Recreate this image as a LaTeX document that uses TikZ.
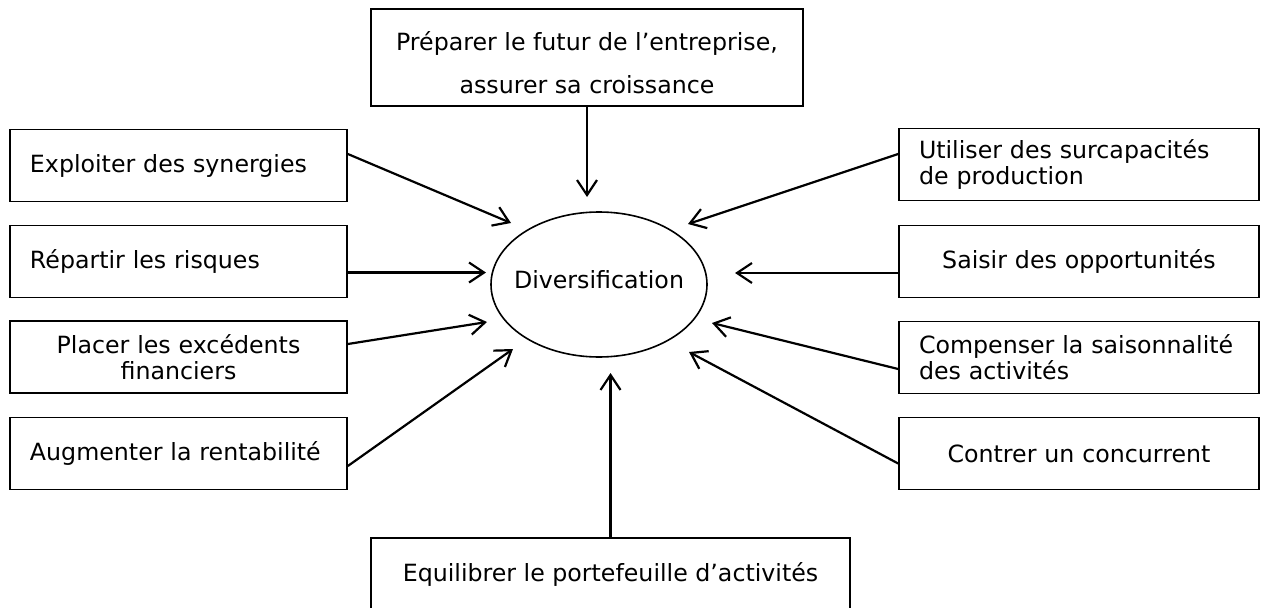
\documentclass[tikz,border=0pt]{standalone}
\usepackage{fontspec}
\setmainfont{DejaVu Sans}
\usetikzlibrary{shapes.geometric,arrows.meta}
\begin{document}
\begin{tikzpicture}[x=1pt,y=-1pt,
  every node/.style={font=\fontsize{23.7}{26}\selectfont},
  box/.style={draw, line width=1.7pt, rectangle, inner xsep=20pt, inner ysep=0pt, minimum height=72pt},
  lbox/.style={box, text width=297pt, align=left},
  lboxc/.style={box, text width=297pt, align=center},
  rbox/.style={box, text width=320pt, align=left},
  rboxc/.style={box, text width=320pt, align=center},
  arr/.style={line width=2.2pt, -{Straight Barb[length=15pt,width=20pt]}}
]
\useasboundingbox (0,0) rectangle (1262,608);
\clip (0,0) rectangle (1262,608);

\node[box, align=center, minimum width=432pt, minimum height=97pt] (pr) at (587,57.5)
  {\rule{0pt}{29pt}Préparer le futur de l’entreprise,\\[17pt]assurer sa croissance};

\node[lbox] (ex) at (178.5,165.5) {Exploiter des synergies};
\node[lbox] (re) at (178.5,261.5) {Répartir les risques};
\node[lboxc] (pl) at (178.5,357) {Placer les excédents\\financiers};
\node[lbox] (au) at (178.5,453.5) {Augmenter la rentabilité};

\node[rbox] (ut) at (1079,164.5) {Utiliser des surcapacités\\de production};
\node[rboxc] (sa) at (1079,261.5) {Saisir des opportunités};
\node[rbox] (co) at (1079,357.5) {Compenser la saisonnalité\\des activités};
\node[rboxc] (cn) at (1079,453.5) {Contrer un concurrent};

\node[box, align=center, minimum width=479pt, minimum height=74pt, anchor=north] (eq) at (610.5,537)
  {Equilibrer le portefeuille d’activités};

\node[ellipse, draw, line width=1.6pt, minimum width=216pt, minimum height=145pt,
  inner xsep=-9.5pt, inner ysep=0pt, text depth=10pt] (dv) at (599,284.5) {Diversification};

\coordinate (tpr) at (587,197);
\coordinate (tex) at (511,223);
\coordinate (tre) at (486,272.5);
\coordinate (tpl) at (487,322);
\coordinate (tau) at (513,349);
\coordinate (tut) at (688,224);
\coordinate (tsa) at (735,273);
\coordinate (tco) at (712,323);
\coordinate (tcn) at (689,352);
\coordinate (teq) at (610.5,373);

\draw[arr] (pr.south) -- (tpr);
\draw[arr] ([yshift=11.5pt]ex.east) -- (tex);
\draw[arr] ([yshift=-11pt]re.east) -- (tre);
\draw[arr] ([yshift=13pt]pl.east) -- (tpl);
\draw[arr] ([yshift=-12.5pt]au.east) -- (tau);
\draw[arr] ([yshift=10.5pt]ut.west) -- (tut);
\draw[arr] ([yshift=-11.5pt]sa.west) -- (tsa);
\draw[arr] ([yshift=-11.5pt]co.west) -- (tco);
\draw[arr] ([yshift=-10pt]cn.west) -- (tcn);
\draw[arr] (eq.north) -- (teq);
\end{tikzpicture}
\end{document}
